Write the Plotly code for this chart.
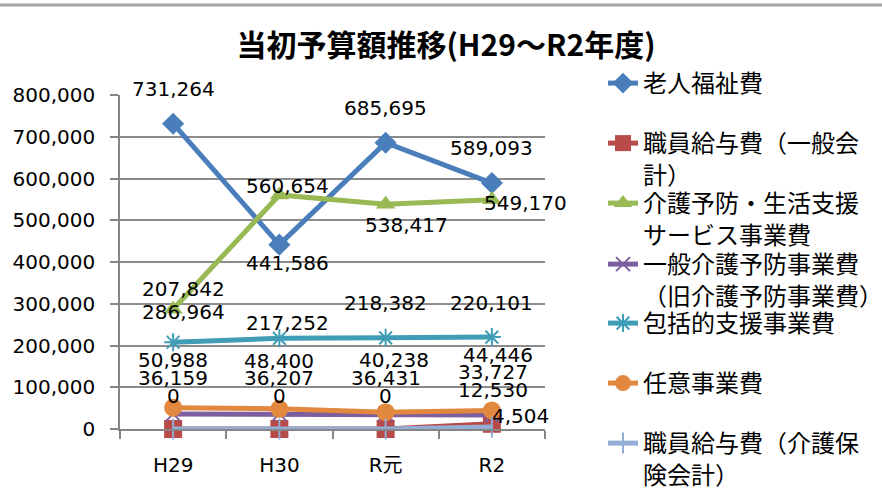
import plotly.graph_objects as go

# ---- data ----
categories = ["H29", "H30", "R元", "R2"]
series_names = [
    "老人福祉費",
    "職員給与費（一般会計）",
    "介護予防・生活支援サービス事業費",
    "一般介護予防事業費（旧介護予防事業費）",
    "包括的支援事業費",
    "任意事業費",
    "職員給与費（介護保険会計）",
]
legend_labels = [
    "老人福祉費",
    "職員給与費（一般会<br>計）",
    "介護予防・生活支援<br>サービス事業費",
    "一般介護予防事業費<br>（旧介護予防事業費）",
    "包括的支援事業費",
    "任意事業費",
    "職員給与費（介護保<br>険会計）",
]
rojin = [731264, 441586, 685695, 589093]
kyuyo_ippan = [0, 0, 0, 12530]
yobo_seikatsu = [286964, 560654, 538417, 549170]
ippan_yobo = [36159, 36207, 36431, 33727]
hokatsu = [207842, 217252, 218382, 220101]
nini = [50988, 48400, 40238, 44446]
kyuyo_kaigo = [0, 0, 0, 4504]
y_ticks = [0, 100000, 200000, 300000, 400000, 500000, 600000, 700000, 800000]
title_text = "当初予算額推移(H29～R2年度)"

values = [rojin, kyuyo_ippan, yobo_seikatsu, ippan_yobo, hokatsu, nini, kyuyo_kaigo]
show_label = [
    [True] * 4, [True] * 4, [True] * 4, [True] * 4, [True] * 4, [True] * 4,
    [False, False, False, True],
]

# ---- styles ----
colors = ["#4A7EBB", "#B84A48", "#98B954", "#7D5FA0", "#3F9DB5", "#E2883F", "#93AED6"]
symbols = ["diamond", "square", "triangle-up", "x-thin-open", "asterisk-open", "circle", "line-ns-open"]
msizes = [17, 18, 17, 14, 15, 18, 15]
# label offsets in px (dx right, dy down)
label_dx = [
    [0, 8, 0, 0], [0, 0, 0, 1], [10, 8, 21, 34], [0, 0, 0, 1],
    [10, 8, 0, 0], [0, 0, 8, 6], [0, 0, 0, 29],
]
label_dy = [
    [-35, 18, -35, -35], [-33, -33, -33, -34], [3, -9, 21, 3], [-36, -36, -36, -43],
    [-53, -15, -35, -34], [-48, -48, -52, -55], [0, 0, 0, -11],
]
legend_centers = [83, 143, 203, 264, 323, 383, 443]

W, H = 882, 491
num_font = "DejaVu Sans, Noto Sans CJK JP"
cjk_font = "Noto Sans CJK JP"

fig = go.Figure()
legend_layouts = {}
annotations = []
for i, (name, vals) in enumerate(zip(series_names, values)):
    lname = "legend" if i == 0 else f"legend{i+1}"
    sym = symbols[i]
    marker = dict(symbol=sym, size=msizes[i], color=colors[i])
    if sym.endswith("open"):
        marker["line"] = dict(color=colors[i], width=2)
    fig.add_trace(go.Scatter(
        x=categories, y=vals, mode="lines+markers", name=legend_labels[i],
        line=dict(color=colors[i], width=5), marker=marker,
        cliponaxis=False, legend=lname, hoverinfo="skip",
    ))
    top = legend_centers[i] - 22
    legend_layouts[lname] = dict(
        xref="container", yref="container", x=603 / W, y=1 - top / H,
        xanchor="left", yanchor="top", valign="top",
        font=dict(family=cjk_font, size=24, color="#000000"),
        bgcolor="rgba(0,0,0,0)", borderwidth=0, tracegroupgap=0,
    )
    for j, c in enumerate(categories):
        if not show_label[i][j]:
            continue
        annotations.append(dict(
            x=c, y=vals[j], xref="x", yref="y", text=f"{vals[j]:,}",
            showarrow=False, xanchor="center", yanchor="middle",
            xshift=label_dx[i][j], yshift=-label_dy[i][j],
            font=dict(family=num_font, size=20, color="#000000"),
        ))

fig.update_layout(
    width=W, height=H, autosize=False,
    margin=dict(l=120, r=W - 545, t=95, b=H - 429, pad=0),
    paper_bgcolor="#FFFFFF", plot_bgcolor="#FFFFFF",
    title=dict(text=f"<b>{title_text}</b>", xref="container", yref="container",
               x=446 / W, y=1 - 45 / H, xanchor="center", yanchor="middle",
               font=dict(family=cjk_font, size=30, color="#000000")),
    annotations=annotations,
    showlegend=True,
    shapes=[dict(type="line", xref="paper", yref="paper",
                 x0=-120 / 425, x1=(W - 120) / 425,
                 y0=1 + (95 - 5) / 334, y1=1 + (95 - 5) / 334,
                 line=dict(color="#A6A6A6", width=3))],
    **legend_layouts,
)
fig.update_xaxes(
    type="category", range=[-0.5, 3.5], tickson="boundaries",
    ticks="outside", ticklen=8, tickwidth=1.5, tickcolor="#868686",
    showline=True, linecolor="#868686", linewidth=1.5, showgrid=False,
    zeroline=False, ticklabelstandoff=17,
    tickfont=dict(family=num_font, size=20, color="#000000"),
)
fig.update_yaxes(
    range=[0, 800000], tickvals=y_ticks, tickformat=",d",
    ticks="outside", ticklen=8, tickwidth=1.5, tickcolor="#868686",
    showline=True, linecolor="#868686", linewidth=1.5,
    showgrid=True, gridcolor="#8C8C8C", gridwidth=1.5, zeroline=False,
    ticklabelstandoff=11,
    tickfont=dict(family=num_font, size=20, color="#000000"),
)
fig.write_html("out.html", config={"displayModeBar": False},
               post_script="document.body.style.margin='0px';")
